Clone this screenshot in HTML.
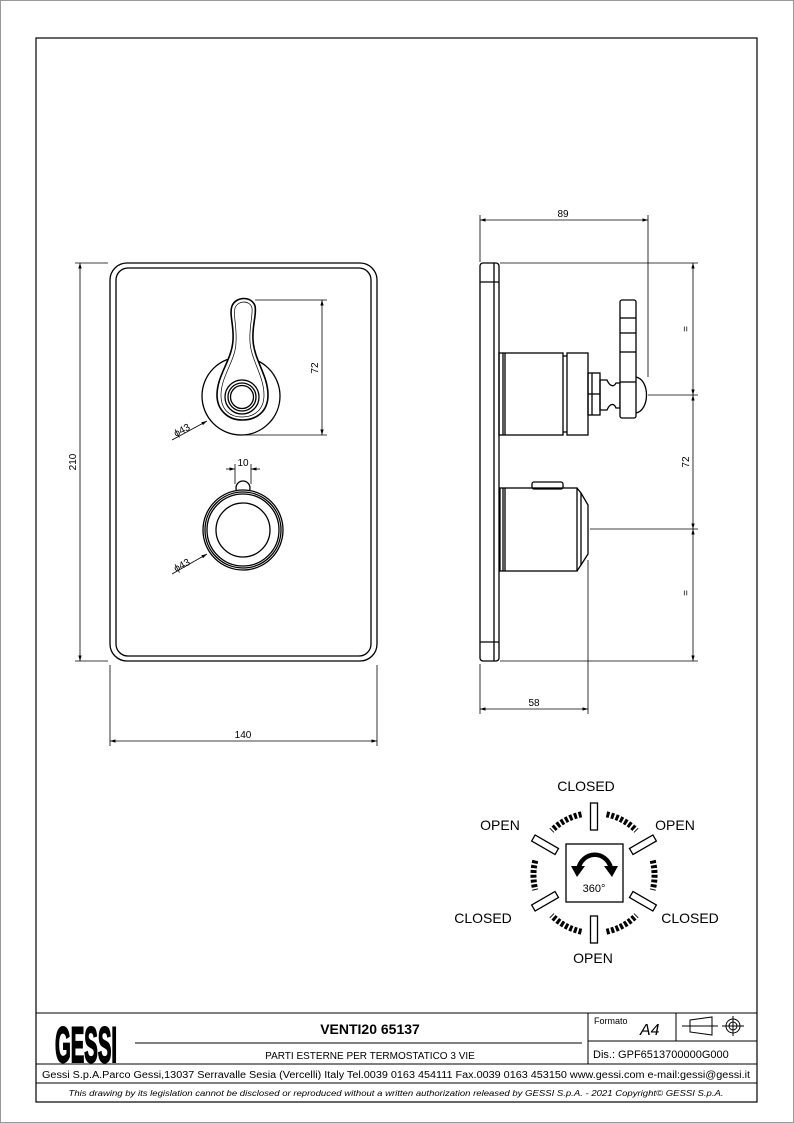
<!DOCTYPE html>
<html><head><meta charset="utf-8"><style>
html,body{margin:0;padding:0;background:#fff}
svg{display:block}
text{font-family:"Liberation Sans",sans-serif;fill:#000}
</style></head><body>
<svg width="794" height="1123" viewBox="0 0 794 1123" xmlns="http://www.w3.org/2000/svg">
<defs>
<marker id="a" viewBox="0 0 10 10" refX="10" refY="5" markerWidth="7" markerHeight="7" orient="auto-start-reverse"><path d="M0,2 L10,5 L0,8 z" fill="#000"/></marker>
</defs>
<rect x="0.5" y="0.5" width="793" height="1122" fill="#fff" stroke="#999"/>
<rect x="36" y="38" width="721" height="1064" fill="none" stroke="#000" stroke-width="1.2"/>
<g fill="none" stroke="#000" stroke-width="1.3">
<!-- front view plate -->
<rect x="110" y="263" width="267" height="398" rx="17"/>
<rect x="116" y="268" width="255" height="388" rx="12"/>
<!-- upper handle -->
<circle cx="241" cy="396" r="39"/>
<path d="M232,306 C236,296 252,296 255,306 C257,314 252,325 253,340 C254,360 268,375 268,395 C268,412 256,420 242,420 C228,420 217,410 217,395 C217,375 232,360 233,340 C234,325 229,314 232,306 Z" fill="#fff" stroke-width="1.6"/>
<path d="M235,308 C238,300 250,300 252,308 C253,316 249,326 250,342 C251,360 264,376 264,395 C264,410 254,417 242,417 C230,417 221,410 221,395 C221,376 236,360 236,342 C237,326 233,316 235,308 Z" stroke-width="0.7"/>
<circle cx="242" cy="397" r="17"/><circle cx="242" cy="397" r="14"/><circle cx="242" cy="397" r="11.5"/>
<!-- lower knob -->
<circle cx="243" cy="488" r="7"/>
<circle cx="243" cy="530" r="40" fill="#fff"/><circle cx="243" cy="530" r="38"/><circle cx="243" cy="530" r="36"/><circle cx="243" cy="530" r="27"/>
<!-- dims front -->
<g stroke-width="0.8">
<line x1="255" y1="300" x2="327" y2="300"/><line x1="245" y1="435" x2="327" y2="435"/>
<line x1="322" y1="300" x2="322" y2="435" marker-start="url(#a)" marker-end="url(#a)"/>
<line x1="235" y1="464" x2="235" y2="484"/><line x1="251" y1="464" x2="251" y2="484"/>
<line x1="226" y1="469" x2="235" y2="469" marker-end="url(#a)"/><line x1="260" y1="469" x2="251" y2="469" marker-end="url(#a)"/>
<line x1="172" y1="440" x2="207" y2="421" marker-end="url(#a)"/>
<line x1="172" y1="574" x2="207" y2="554" marker-end="url(#a)"/>
<line x1="75" y1="263" x2="108" y2="263"/><line x1="75" y1="661" x2="108" y2="661"/>
<line x1="80" y1="263" x2="80" y2="661" marker-start="url(#a)" marker-end="url(#a)"/>
<line x1="110" y1="665" x2="110" y2="746"/><line x1="377" y1="665" x2="377" y2="746"/>
<line x1="110" y1="741" x2="377" y2="741" marker-start="url(#a)" marker-end="url(#a)"/>
</g>
<!-- side view -->
<rect x="480" y="263" width="19" height="398" rx="3"/>
<line x1="494" y1="263" x2="494" y2="661"/>
<line x1="480" y1="282" x2="499" y2="282"/><line x1="480" y1="642" x2="499" y2="642"/>
<rect x="499" y="353" width="64" height="82"/><line x1="503" y1="353" x2="503" y2="435"/><line x1="505" y1="353" x2="505" y2="435"/>
<rect x="567" y="353" width="21" height="82"/><line x1="563" y1="356" x2="567" y2="356"/><line x1="563" y1="432" x2="567" y2="432"/>
<rect x="588" y="373" width="12" height="42"/><line x1="588" y1="394" x2="600" y2="394"/><line x1="592" y1="373" x2="592" y2="415"/>
<path d="M600,380 L607,380 C610,387 614,387 616,383 L620,383 L620,408 L616,408 C614,403 610,403 607,410 L600,410 Z"/>
<rect x="620" y="300" width="16" height="118" rx="2" fill="#fff"/>
<line x1="620" y1="318" x2="636" y2="318"/><line x1="620" y1="333" x2="636" y2="333"/><line x1="620" y1="352" x2="636" y2="352"/><line x1="620" y1="382" x2="636" y2="382"/>
<path d="M636,377 C650,380 650,410 636,413"/>
<rect x="500" y="488" width="77" height="83"/><line x1="503" y1="488" x2="503" y2="571"/><line x1="505" y1="488" x2="505" y2="571"/>
<rect x="532" y="482" width="31" height="7" rx="2"/>
<path d="M577,488 L581,493 L588,505 L588,554 L581,565 L577,571"/><line x1="581" y1="493" x2="581" y2="565"/>
<g stroke-width="0.8">
<line x1="480" y1="215" x2="480" y2="262"/><line x1="648" y1="215" x2="648" y2="377"/>
<line x1="480" y1="220" x2="648" y2="220" marker-start="url(#a)" marker-end="url(#a)"/>
<line x1="480" y1="664" x2="480" y2="714"/><line x1="588" y1="560" x2="588" y2="714"/>
<line x1="480" y1="709" x2="588" y2="709" marker-start="url(#a)" marker-end="url(#a)"/>
<line x1="500" y1="263" x2="698" y2="263"/><line x1="648" y1="395" x2="698" y2="395"/><line x1="590" y1="529" x2="698" y2="529"/><line x1="500" y1="661" x2="698" y2="661"/>
<line x1="693" y1="263" x2="693" y2="395" marker-start="url(#a)" marker-end="url(#a)"/>
<line x1="693" y1="395" x2="693" y2="529" marker-start="url(#a)" marker-end="url(#a)"/>
<line x1="693" y1="529" x2="693" y2="661" marker-start="url(#a)" marker-end="url(#a)"/>
</g>
<!-- rotation diagram -->
<rect x="566" y="844" width="57" height="58"/>
<g transform="translate(594,873)">
<rect x="-3.5" y="-70" width="7" height="27" transform="rotate(0)"/>
<rect x="-3.5" y="-70" width="7" height="27" transform="rotate(60)"/>
<rect x="-3.5" y="-70" width="7" height="27" transform="rotate(120)"/>
<rect x="-3.5" y="-70" width="7" height="27" transform="rotate(180)"/>
<rect x="-3.5" y="-70" width="7" height="27" transform="rotate(240)"/>
<rect x="-3.5" y="-70" width="7" height="27" transform="rotate(300)"/>
<g stroke-width="6" stroke-dasharray="3 1.8">
<path d="M12.5,-58.7 A60,60 0 0 1 42.4,-42.4"/>
<path d="M-12.5,-58.7 A60,60 0 0 0 -42.4,-42.4"/>
<path d="M58.7,-12.5 A60,60 0 0 1 58.7,17"/>
<path d="M-58.7,-12.5 A60,60 0 0 0 -58.7,17"/>
<path d="M12.5,58.7 A60,60 0 0 0 42.4,42.4"/>
<path d="M-12.5,58.7 A60,60 0 0 1 -42.4,42.4"/>
</g>
</g>
<path d="M578,870 C582,850 606,850 611,868" stroke-width="4.5"/>
<path d="M571,866 L585,866 L577,877 Z M604,866 L618,866 L612,877 Z" fill="#000" stroke="none"/>
</g>
<g font-size="10">
<text transform="translate(318,368) rotate(-90)" text-anchor="middle">72</text>
<text x="243" y="466" text-anchor="middle">10</text>
<text transform="translate(176,437) rotate(-28)">ϕ43</text>
<text transform="translate(176,572) rotate(-28)">ϕ43</text>
<text transform="translate(76,462) rotate(-90)" text-anchor="middle">210</text>
<text x="243" y="738" text-anchor="middle">140</text>
<text x="563" y="217" text-anchor="middle">89</text>
<text x="534" y="706" text-anchor="middle">58</text>
<text transform="translate(689,462) rotate(-90)" text-anchor="middle">72</text>
<text transform="translate(689,329) rotate(-90)" text-anchor="middle">=</text>
<text transform="translate(689,593) rotate(-90)" text-anchor="middle">=</text>
</g>
<g font-size="14" text-anchor="middle">
<text x="586" y="791">CLOSED</text>
<text x="500" y="830">OPEN</text>
<text x="675" y="830">OPEN</text>
<text x="483" y="923">CLOSED</text>
<text x="690" y="923">CLOSED</text>
<text x="593" y="963">OPEN</text>
</g>
<text x="594" y="892" font-size="11" text-anchor="middle">360°</text>
<!-- title block -->
<g fill="none" stroke="#000" stroke-width="1">
<line x1="36" y1="1013" x2="757" y2="1013"/>
<line x1="588" y1="1013" x2="588" y2="1064"/><line x1="676" y1="1013" x2="676" y2="1041"/>
<line x1="588" y1="1041" x2="757" y2="1041"/>
<line x1="36" y1="1064" x2="757" y2="1064"/><line x1="36" y1="1083" x2="757" y2="1083"/>
<line x1="135" y1="1043" x2="582" y2="1043"/>
<path d="M690,1020 L712,1017 L712,1035 L690,1032 Z M682,1026 L718,1026"/>
<circle cx="733" cy="1026" r="7"/><circle cx="733" cy="1026" r="4"/><path d="M722,1026 L744,1026 M733,1016 L733,1036"/>
</g>
<text x="86" y="1062" font-size="50" font-weight="bold" text-anchor="middle" textLength="62" lengthAdjust="spacingAndGlyphs" stroke="#000" stroke-width="2">GESSI</text>
<text x="370" y="1034" font-size="14" font-weight="bold" text-anchor="middle">VENTI20 65137</text>
<text x="370" y="1059" font-size="10" text-anchor="middle">PARTI ESTERNE PER TERMOSTATICO 3 VIE</text>
<text x="594" y="1024" font-size="9">Formato</text>
<text x="640" y="1035" font-size="16" font-style="italic">A4</text>
<text x="593" y="1058" font-size="11">Dis.: GPF6513700000G000</text>
<text x="396" y="1078" font-size="10" text-anchor="middle" textLength="708" lengthAdjust="spacingAndGlyphs">Gessi S.p.A.Parco Gessi,13037 Serravalle Sesia (Vercelli) Italy Tel.0039 0163 454111 Fax.0039 0163 453150 www.gessi.com e-mail:gessi@gessi.it</text>
<text x="396" y="1096" font-size="8" font-style="italic" text-anchor="middle" textLength="655" lengthAdjust="spacingAndGlyphs">This drawing by its legislation cannot be disclosed or reproduced without a written authorization released by GESSI S.p.A. - 2021 Copyright© GESSI S.p.A.</text>
</svg>
</body></html>
